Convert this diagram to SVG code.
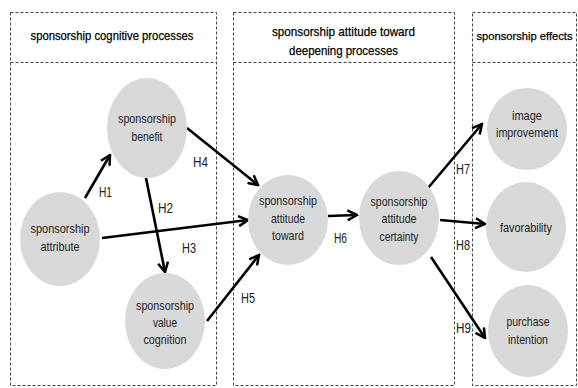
<svg xmlns="http://www.w3.org/2000/svg" width="578" height="388" viewBox="0 0 578 388">
<defs>
<style>
.panel{fill:none;stroke:#444;stroke-width:1;stroke-dasharray:3,2}
.node ellipse{fill:#d9d9d9}
.nt{font-family:"Liberation Sans",Arial,sans-serif;font-size:13.5px;fill:#222;text-anchor:middle}
.hd{font-family:"Liberation Sans",Arial,sans-serif;font-size:13.5px;fill:#000;text-anchor:middle;stroke:#000;stroke-width:0.25}
.hl{font-family:"Liberation Sans",Arial,sans-serif;font-size:14.5px;fill:#222}
.arr{stroke:#000;stroke-width:2.6;fill:none;marker-end:url(#ah)}
</style>
<marker id="ah" viewBox="0 0 12 12" refX="10.5" refY="6" markerWidth="12" markerHeight="12" markerUnits="userSpaceOnUse" orient="auto">
<path d="M1,1 L10.5,6 L1,11" fill="none" stroke="#000" stroke-width="2.5"/>
</marker>
</defs>
<rect width="578" height="388" fill="#fff"/>
<g id="panels">
<rect class="panel" x="10.5" y="12.5" width="206" height="373"/>
<line class="panel" x1="10.5" y1="62.5" x2="216.5" y2="62.5"/>
<rect class="panel" x="233.5" y="12.5" width="221" height="373"/>
<line class="panel" x1="233.5" y1="62.5" x2="454.5" y2="62.5"/>
<rect class="panel" x="472.5" y="12.5" width="104" height="373"/>
<line class="panel" x1="472.5" y1="62.5" x2="576.5" y2="62.5"/>
<text class="hd" x="112" y="40" textLength="163" lengthAdjust="spacingAndGlyphs">sponsorship cognitive processes</text>
<text class="hd" x="343.5" y="36" textLength="143" lengthAdjust="spacingAndGlyphs">sponsorship attitude toward</text>
<text class="hd" x="343.5" y="55" textLength="109" lengthAdjust="spacingAndGlyphs">deepening processes</text>
<text class="hd" x="524.5" y="40" style="font-size:11.5px" textLength="96" lengthAdjust="spacingAndGlyphs">sponsorship effects</text>
</g>
<g id="connectors">
<line class="arr" x1="85" y1="198" x2="110" y2="155"/>
<line class="arr" x1="146" y1="178" x2="165" y2="272"/>
<line class="arr" x1="102" y1="238" x2="248" y2="220"/>
<line class="arr" x1="187" y1="128" x2="258" y2="185"/>
<line class="arr" x1="207" y1="321" x2="259" y2="255"/>
<line class="arr" x1="328" y1="216" x2="357" y2="215"/>
<line class="arr" x1="428" y1="188" x2="482" y2="124"/>
<line class="arr" x1="440" y1="220" x2="485" y2="224"/>
<line class="arr" x1="431" y1="257" x2="485" y2="338"/>
<text class="hl" x="99" y="197" textLength="13" lengthAdjust="spacingAndGlyphs">H1</text>
<text class="hl" x="158" y="213" textLength="15" lengthAdjust="spacingAndGlyphs">H2</text>
<text class="hl" x="182" y="253" textLength="14" lengthAdjust="spacingAndGlyphs">H3</text>
<text class="hl" x="193" y="167" textLength="15" lengthAdjust="spacingAndGlyphs">H4</text>
<text class="hl" x="241" y="303" textLength="14" lengthAdjust="spacingAndGlyphs">H5</text>
<text class="hl" x="334" y="243" textLength="13" lengthAdjust="spacingAndGlyphs">H6</text>
<text class="hl" x="456" y="174" textLength="14" lengthAdjust="spacingAndGlyphs">H7</text>
<text class="hl" x="456" y="250" textLength="14" lengthAdjust="spacingAndGlyphs">H8</text>
<text class="hl" x="456" y="333" textLength="15" lengthAdjust="spacingAndGlyphs">H9</text>
</g>
<g id="benefit" class="node">
<ellipse cx="147" cy="128" rx="40" ry="50"/>
<text class="nt" x="147" y="123" textLength="58" lengthAdjust="spacingAndGlyphs">sponsorship</text>
<text class="nt" x="147" y="141" textLength="31" lengthAdjust="spacingAndGlyphs">benefit</text>
</g>
<g id="attribute" class="node">
<ellipse cx="60" cy="239" rx="40" ry="47"/>
<text class="nt" x="60" y="233" textLength="59" lengthAdjust="spacingAndGlyphs">sponsorship</text>
<text class="nt" x="60" y="251" textLength="39" lengthAdjust="spacingAndGlyphs">attribute</text>
</g>
<g id="value-cognition" class="node">
<ellipse cx="165" cy="321" rx="40" ry="48"/>
<text class="nt" x="165" y="310" textLength="58" lengthAdjust="spacingAndGlyphs">sponsorship</text>
<text class="nt" x="165" y="327" textLength="24" lengthAdjust="spacingAndGlyphs">value</text>
<text class="nt" x="165" y="344" textLength="43" lengthAdjust="spacingAndGlyphs">cognition</text>
</g>
<g id="attitude-toward" class="node">
<ellipse cx="288" cy="220" rx="40" ry="45"/>
<text class="nt" x="288" y="205" textLength="58" lengthAdjust="spacingAndGlyphs">sponsorship</text>
<text class="nt" x="288" y="223" textLength="34" lengthAdjust="spacingAndGlyphs">attitude</text>
<text class="nt" x="288" y="240" textLength="32" lengthAdjust="spacingAndGlyphs">toward</text>
</g>
<g id="attitude-certainty" class="node">
<ellipse cx="399" cy="218" rx="40" ry="47"/>
<text class="nt" x="399" y="206" textLength="57" lengthAdjust="spacingAndGlyphs">sponsorship</text>
<text class="nt" x="399" y="223" textLength="35" lengthAdjust="spacingAndGlyphs">attitude</text>
<text class="nt" x="399" y="241" textLength="39" lengthAdjust="spacingAndGlyphs">certainty</text>
</g>
<g id="image-improvement" class="node">
<ellipse cx="527" cy="129" rx="40" ry="41"/>
<text class="nt" x="527" y="120" textLength="30" lengthAdjust="spacingAndGlyphs">image</text>
<text class="nt" x="527" y="137" textLength="62" lengthAdjust="spacingAndGlyphs">improvement</text>
</g>
<g id="favorability" class="node">
<ellipse cx="526" cy="227" rx="40" ry="45"/>
<text class="nt" x="526" y="232" textLength="52" lengthAdjust="spacingAndGlyphs">favorability</text>
</g>
<g id="purchase-intention" class="node">
<ellipse cx="528" cy="331" rx="40" ry="46"/>
<text class="nt" x="528" y="326" textLength="43" lengthAdjust="spacingAndGlyphs">purchase</text>
<text class="nt" x="528" y="344" textLength="40" lengthAdjust="spacingAndGlyphs">intention</text>
</g>
</svg>
